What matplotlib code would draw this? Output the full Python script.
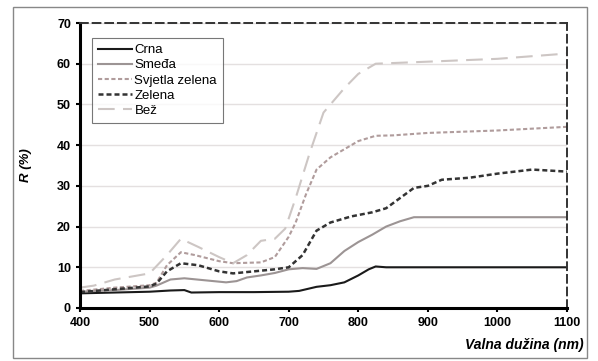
import matplotlib
import matplotlib.pyplot as plt
from matplotlib.patches import Rectangle

matplotlib.use("Agg")

# wavelength (nm) and reflectance (%) per sample colour
wl_crna = [400, 450, 500, 530, 550, 560, 600, 650, 700, 715, 740, 760, 780, 800, 815, 825, 840, 900, 1000, 1100]
r_crna = [3.6, 3.8, 4.0, 4.3, 4.4, 3.8, 3.9, 3.9, 4.0, 4.2, 5.2, 5.6, 6.3, 8.0, 9.5, 10.2, 10.0, 10.0, 10.0, 10.0]

wl_smeda = [400, 450, 500, 510, 530, 550, 580, 610, 625, 640, 660, 680, 700, 720, 740, 760, 780, 800, 820, 840, 860, 880, 900, 1000, 1100]
r_smeda = [4.0, 4.4, 5.0, 5.5, 7.0, 7.3, 6.8, 6.3, 6.6, 7.5, 8.0, 8.6, 9.5, 9.8, 9.6, 11.0, 14.0, 16.2, 18.0, 20.0, 21.3, 22.3, 22.3, 22.3, 22.3]

wl_svj = [400, 450, 500, 510, 525, 545, 565, 600, 620, 660, 680, 690, 700, 710, 725, 740, 760, 780, 800, 825, 850, 900, 1000, 1100]
r_svj = [4.2, 5.0, 5.6, 6.2, 10.5, 13.7, 13.0, 11.5, 11.0, 11.2, 12.5, 15.0, 17.5, 21.0, 28.0, 34.0, 37.0, 39.0, 41.0, 42.3, 42.4, 43.0, 43.6, 44.5]

wl_zel = [400, 450, 500, 510, 525, 545, 570, 600, 620, 650, 680, 700, 720, 740, 760, 790, 820, 840, 860, 880, 900, 920, 960, 1000, 1050, 1100]
r_zel = [3.9, 4.6, 5.3, 6.0, 9.0, 11.0, 10.5, 9.0, 8.5, 9.0, 9.5, 10.0, 13.0, 19.0, 21.0, 22.5, 23.5, 24.5, 27.0, 29.5, 30.0, 31.5, 32.0, 33.0, 34.0, 33.5]

wl_bez = [400, 420, 450, 500, 525, 545, 570, 600, 620, 640, 660, 680, 695, 710, 730, 750, 780, 800, 825, 900, 1000, 1100]
r_bez = [5.0, 5.5, 7.0, 8.5, 13.0, 17.0, 15.0, 12.5, 11.0, 13.0, 16.5, 17.0, 19.5, 27.0, 38.0, 48.0, 54.0, 57.5, 60.0, 60.5, 61.2, 62.5]

x_ticks = [400, 500, 600, 700, 800, 900, 1000, 1100]
y_ticks = [0, 10, 20, 30, 40, 50, 60, 70]

fig = plt.figure(figsize=(5.98, 3.61), dpi=100)
fig.patches.append(Rectangle((13 / 598, 3 / 361), 574 / 598, 351 / 361, transform=fig.transFigure,
                             fill=False, edgecolor="#888888", linewidth=1.0))
ax = fig.add_axes([80 / 598, 53 / 361, 487 / 598, 285 / 361])

ax.plot(wl_crna, r_crna, color="#1a1a1a", lw=1.5, label="Crna")
ax.plot(wl_smeda, r_smeda, color="#9c9494", lw=1.5, label="Smeđa")
ax.plot(wl_svj, r_svj, color="#b09c9c", lw=1.5, ls=(0, (2, 1.2)), label="Svjetla zelena")
ax.plot(wl_zel, r_zel, color="#333333", lw=1.8, ls=(0, (2, 1.2)), label="Zelena")
ax.plot(wl_bez, r_bez, color="#cdc6c4", lw=1.5, ls=(0, (8, 4)), label="Bež")

ax.set_xlim(400, 1100)
ax.set_ylim(0, 70)
ax.set_xticks(x_ticks)
ax.set_yticks(y_ticks)
ax.yaxis.grid(True, color="#e4e0e0", lw=1.0)
ax.set_axisbelow(True)

for s in ["left", "bottom"]:
    ax.spines[s].set_linewidth(2.2)
    ax.spines[s].set_color("black")
for s in ["top", "right"]:
    ax.spines[s].set_linestyle((0, (4, 2.5)))
    ax.spines[s].set_linewidth(1.4)
    ax.spines[s].set_color("#333333")

ax.tick_params(direction="out", length=3, width=1.5, labelsize=9)
for lbl in ax.get_xticklabels() + ax.get_yticklabels():
    lbl.set_fontweight("bold")
    lbl.set_family("Liberation Sans")

ax.set_ylabel("R (%)", fontsize=9.5, fontweight="bold", fontstyle="italic", family="Liberation Sans",
              labelpad=18)
fig.text(584 / 598, 1 - 345 / 361, "Valna dužina (nm)", ha="right", va="center",
         fontsize=10, fontweight="bold", fontstyle="italic", family="Liberation Sans")

leg = ax.legend(loc="upper left", bbox_to_anchor=(0.025, 0.947), handlelength=2.6,
                handletextpad=0.15, labelspacing=0.22, borderpad=0.45, borderaxespad=0,
                fancybox=False, frameon=True, prop={"family": "Liberation Sans", "size": 9.5})
leg.get_frame().set_edgecolor("#555555")
leg.get_frame().set_linewidth(0.8)

fig.savefig("out.png", dpi=100)
